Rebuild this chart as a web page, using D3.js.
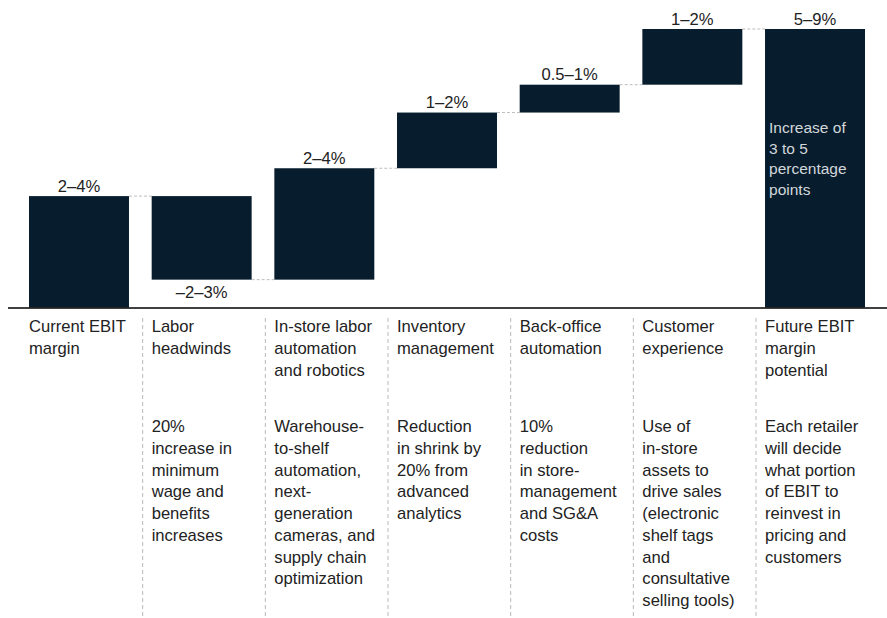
<!DOCTYPE html>
<html>
<head>
<meta charset="utf-8">
<script src="https://cdn.jsdelivr.net/npm/d3@7"></script>
<style>
  html, body { margin: 0; padding: 0; background: #fff; }
  svg { display: block; }
  text { font-family: "Liberation Sans", Arial, sans-serif; }
</style>
</head>
<body>
<svg id="chart" width="887" height="618"></svg>
<script>
// Waterfall steps, in percentage points of EBIT margin
const categories = [
  "Current EBIT margin", "Labor headwinds", "In-store labor automation and robotics",
  "Inventory management", "Back-office automation", "Customer experience",
  "Future EBIT margin potential"
];
const kinds = ["total", "delta", "delta", "delta", "delta", "delta", "total"];
const deltas = [3, -2.25, 3, 1.5, 0.75, 1.5];
const valueLabels = ["2–4%", "–2–3%", "2–4%", "1–2%", "0.5–1%", "1–2%", "5–9%"];
const categoryLines = [
  ["Current EBIT", "margin"],
  ["Labor", "headwinds"],
  ["In-store labor", "automation", "and robotics"],
  ["Inventory", "management"],
  ["Back-office", "automation"],
  ["Customer", "experience"],
  ["Future EBIT", "margin", "potential"]
];
const descriptions = [
  [],
  ["20%", "increase in", "minimum", "wage and", "benefits", "increases"],
  ["Warehouse-", "to-shelf", "automation,", "next-", "generation", "cameras, and", "supply chain", "optimization"],
  ["Reduction", "in shrink by", "20% from", "advanced", "analytics"],
  ["10%", "reduction", "in store-", "management", "and SG&A", "costs"],
  ["Use of", "in-store", "assets to", "drive sales", "(electronic", "shelf tags", "and", "consultative", "selling tools)"],
  ["Each retailer", "will decide", "what portion", "of EBIT to", "reinvest in", "pricing and", "customers"]
];
const totalNote = ["Increase of", "3 to 5", "percentage", "points"];

// Build running start/end levels for every bar
const steps = [];
let level = 0;
categories.forEach((c, i) => {
  if (kinds[i] === "total") {
    const v = i === 0 ? deltas[0] : level;
    steps.push({ cat: c, start: 0, end: v, label: valueLabels[i], i });
    level = v;
  } else {
    const d = deltas[i];
    steps.push({ cat: c, start: level, end: level + d, label: valueLabels[i], i });
    level += d;
  }
});
const maxLevel = d3.max(steps, s => Math.max(s.start, s.end));

const svg = d3.select("#chart");
const baseY = 307.5;
const fontSize = 16.6;
const x = d3.scaleBand().domain(categories).range([29, 865]).paddingInner(0.185).paddingOuter(0);
const y = d3.scaleLinear().domain([0, maxLevel]).range([baseY, 29]);
const barColor = "#071d2d";
const textColor = "#222";

// Column separators
svg.append("g").selectAll("line")
  .data(categories.slice(1))
  .join("line")
  .attr("x1", d => x(d) - 9).attr("x2", d => x(d) - 9)
  .attr("y1", 318).attr("y2", 618)
  .attr("stroke", "#b9b9b9").attr("stroke-width", 1)
  .attr("stroke-dasharray", "4 3");

// Dashed connectors between consecutive bars
svg.append("g").selectAll("line")
  .data(steps.slice(0, -1))
  .join("line")
  .attr("x1", d => x(d.cat) + x.bandwidth())
  .attr("x2", d => x(categories[d.i + 1]))
  .attr("y1", d => y(d.end)).attr("y2", d => y(d.end))
  .attr("stroke", "#bdbdbd").attr("stroke-width", 1)
  .attr("stroke-dasharray", "3 2");

// Bars
svg.append("g").selectAll("rect")
  .data(steps)
  .join("rect")
  .attr("x", d => x(d.cat))
  .attr("width", x.bandwidth())
  .attr("y", d => y(Math.max(d.start, d.end)))
  .attr("height", d => Math.abs(y(d.start) - y(d.end)))
  .attr("fill", barColor);

// Value labels (above rising bars, below falling ones)
svg.append("g").selectAll("text")
  .data(steps)
  .join("text")
  .attr("x", d => x(d.cat) + x.bandwidth() / 2)
  .attr("y", d => d.end >= d.start ? y(d.end) - 4.5 : y(d.end) + 18)
  .attr("text-anchor", "middle")
  .attr("font-size", fontSize)
  .attr("fill", textColor)
  .text(d => d.label);

// Note inside the final bar
const last = steps[steps.length - 1];
svg.append("text")
  .attr("x", x(last.cat) + 4)
  .attr("y", 133)
  .attr("font-size", 15.5)
  .attr("fill", "#d3d7db")
  .selectAll("tspan")
  .data(totalNote)
  .join("tspan")
  .attr("x", x(last.cat) + 4)
  .attr("dy", (d, i) => i === 0 ? 0 : 20.5)
  .text(d => d);

// Baseline
svg.append("line")
  .attr("x1", 8).attr("x2", 887)
  .attr("y1", baseY + 0.5).attr("y2", baseY + 0.5)
  .attr("stroke", "#000").attr("stroke-width", 1.5);

// Category names
svg.append("g").selectAll("text")
  .data(categories)
  .join("text")
  .attr("y", 332)
  .attr("font-size", fontSize)
  .attr("fill", textColor)
  .each(function (d, i) {
    d3.select(this).selectAll("tspan")
      .data(categoryLines[i])
      .join("tspan")
      .attr("x", x(d))
      .attr("dy", (t, j) => j === 0 ? 0 : 22)
      .text(t => t);
  });

// Descriptions
svg.append("g").selectAll("text")
  .data(categories)
  .join("text")
  .attr("y", 432)
  .attr("font-size", fontSize)
  .attr("fill", textColor)
  .each(function (d, i) {
    d3.select(this).selectAll("tspan")
      .data(descriptions[i])
      .join("tspan")
      .attr("x", x(d))
      .attr("dy", (t, j) => j === 0 ? 0 : 21.75)
      .text(t => t);
  });
</script>
</body>
</html>
